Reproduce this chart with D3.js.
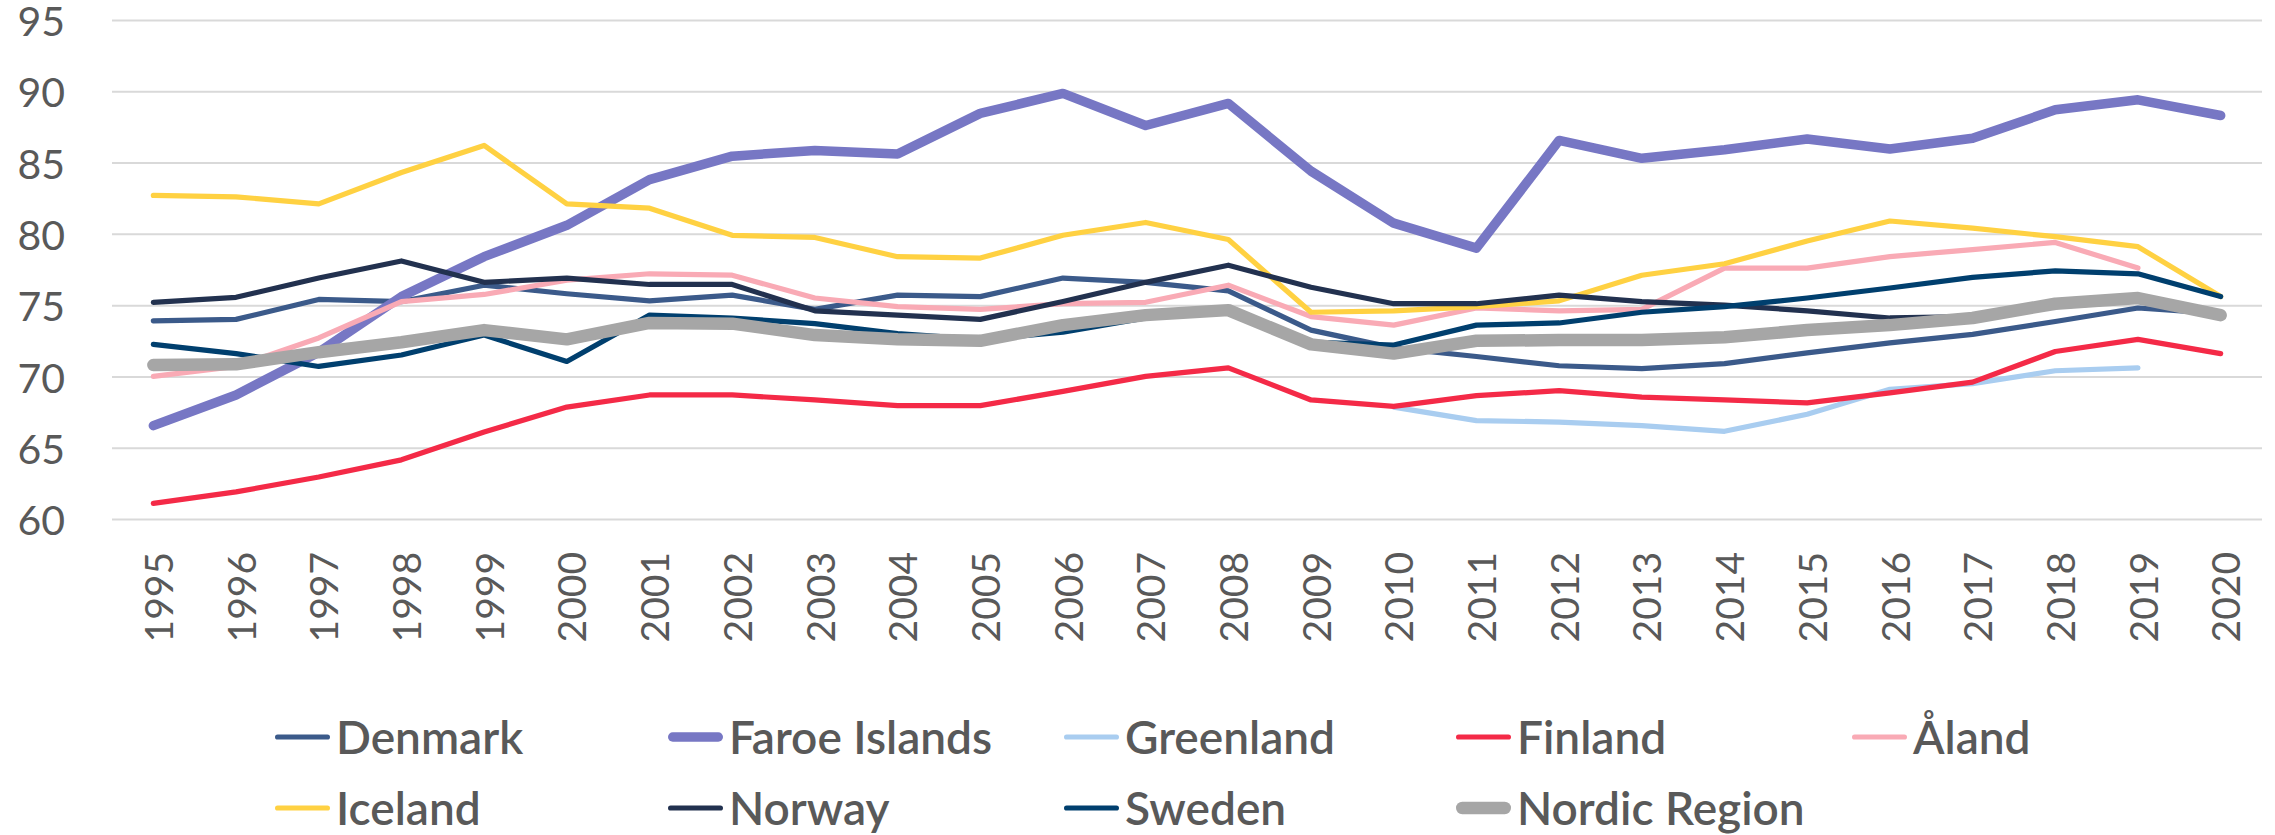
<!DOCTYPE html>
<html>
<head>
<meta charset="utf-8">
<script src="https://cdn.jsdelivr.net/npm/d3@7"></script>
<style>
  body { margin: 0; background: #fff; }
  text { font-family: Lato, "Open Sans", sans-serif; fill: #595959; }
</style>
</head>
<body>
<div class="container"></div>
<script>
const w = 2275
const h = 835

const years = ['1995', '1996', '1997', '1998', '1999', '2000', '2001', '2002', '2003', '2004', '2005', '2006', '2007',
  '2008', '2009', '2010', '2011', '2012', '2013', '2014', '2015', '2016', '2017', '2018', '2019', '2020']
const yTicks = [60, 65, 70, 75, 80, 85, 90, 95]

const names = ['Denmark', 'Faroe Islands', 'Greenland', 'Finland', 'Åland', 'Iceland', 'Norway', 'Sweden', 'Nordic Region']

const denmark = [73.9, 74.0, 75.4, 75.25, 76.4, 75.8, 75.3, 75.7, 74.7, 75.7, 75.6, 76.9, 76.6, 76.0, 73.25, 72.0, 71.4, 70.75, 70.55, 70.9, 71.65, 72.35, 72.95, 73.85, 74.8, 74.4]
const faroe = [66.55, 68.7, 71.7, 75.6, 78.4, 80.6, 83.8, 85.45, 85.85, 85.6, 88.45, 89.85, 87.6, 89.15, 84.4, 80.75, 79.0, 86.55, 85.3, 85.9, 86.65, 85.95, 86.7, 88.7, 89.4, 88.3]
const greenland = [null, null, null, null, null, null, null, null, null, null, null, null, null, null, null,
  67.85, 66.9, 66.8, 66.55, 66.15, 67.35, 69.1, 69.5, 70.4, 70.6, null]
const finland = [61.1, 61.9, 62.95, 64.15, 66.1, 67.85, 68.7, 68.7, 68.35, 67.95, 67.95, 68.95, 70.0, 70.6, 68.35, 67.9, 68.65, 69.0, 68.55, 68.35, 68.15, 68.85, 69.6, 71.75, 72.6, 71.6]
const aland = [70.0, 70.7, 72.7, 75.25, 75.75, 76.75, 77.2, 77.1, 75.5, 74.9, 74.7, 75.1, 75.2, 76.4, 74.2, 73.6, 74.8, 74.6, 74.7, 77.6, 77.6, 78.4, 78.9, 79.4, 77.6, null]
const iceland = [82.7, 82.6, 82.1, 84.3, 86.2, 82.1, 81.8, 79.9, 79.75, 78.4, 78.3, 79.9, 80.8, 79.6, 74.5, 74.6, 74.9, 75.3, 77.1, 77.9, 79.5, 80.9, 80.4, 79.8, 79.1, 75.6]
const norway = [75.2, 75.55, 76.9, 78.1, 76.6, 76.9, 76.45, 76.45, 74.6, 74.3, 74.0, 75.25, 76.6, 77.8, 76.25, 75.1, 75.1, 75.7, 75.25, 75.0, 74.6, 74.1, 74.2, 74.9, 75.3, 74.4]
const sweden = [72.25, 71.6, 70.7, 71.5, 72.9, 71.05, 74.3, 74.1, 73.7, 73.0, 72.6, 73.1, 74.1, 74.6, 72.4, 72.2, 73.6, 73.75, 74.5, 74.9, 75.5, 76.2, 76.95, 77.4, 77.2, 75.6]
const nordic = [70.8, 70.85, 71.7, 72.4, 73.25, 72.6, 73.75, 73.7, 72.9, 72.6, 72.5, 73.6, 74.3, 74.65, 72.25, 71.6, 72.5, 72.55, 72.55, 72.75, 73.25, 73.6, 74.1, 75.1, 75.5, 74.3]

const seriesValues = [denmark, faroe, greenland, finland, aland, iceland, norway, sweden, nordic]

// styles, same order as names
const colors = ['#3B5A8A', '#7777C4', '#A9CDF0', '#F42A47', '#F9AAB5', '#FFD142', '#22314F', '#003F6E', '#A6A6A6']
const widths = [5.2, 9.5, 5.2, 5.2, 5.2, 5.2, 5.2, 5.2, 12.5]

const plot = { left: 112, right: 2262, top: 20, bottom: 519 }

const svg = d3.select('.container')
  .append('svg')
  .attr('width', w)
  .attr('height', h)

const xScale = d3.scaleBand()
  .domain(years)
  .range([plot.left, plot.right])

const yScale = d3.scaleLinear()
  .domain([60, 95])
  .range([plot.bottom, plot.top])

// y axis + gridlines
const yAxis = d3.axisLeft(yScale)
  .tickValues(yTicks)
  .tickSize(-(plot.right - plot.left))
  .tickPadding(47)
svg.append('g')
  .attr('transform', 'translate(' + plot.left + ', 0)')
  .call(yAxis)
  .call(g => g.select('.domain').remove())
  .call(g => g.selectAll('line').attr('stroke', '#D9D9D9').attr('stroke-width', 2))
  .call(g => g.selectAll('text')
    .attr('font-size', 41)
    .attr('fill', '#595959')
    .attr('dy', '0.38em'))

// x axis labels, rotated
const xAxis = d3.axisBottom(xScale).tickSize(0).tickPadding(0)
svg.append('g')
  .attr('transform', 'translate(0, ' + plot.bottom + ')')
  .call(xAxis)
  .call(g => g.select('.domain').remove())
  .call(g => g.selectAll('text')
    .attr('font-size', 39)
    .attr('fill', '#595959')
    .attr('text-anchor', 'end')
    .attr('y', 0)
    .attr('dy', '0.35em')
    .attr('transform', 'translate(6, 33) rotate(-90)'))

// lines
const line = d3.line()
  .defined(d => d != null)
  .x((d, i) => xScale(years[i]) + xScale.bandwidth() / 2)
  .y(d => yScale(d))

svg.append('g')
  .selectAll('path')
  .data(seriesValues)
  .enter()
  .append('path')
  .attr('d', d => line(d))
  .attr('fill', 'none')
  .attr('stroke', (d, i) => colors[i])
  .attr('stroke-width', (d, i) => widths[i])
  .attr('stroke-linejoin', 'round')
  .attr('stroke-linecap', 'round')

// legend
const legendCols = [275, 668, 1064, 1456, 1852]
const legendRows = [737, 808]
const legend = svg.append('g')
  .selectAll('g')
  .data(names)
  .enter()
  .append('g')
  .attr('transform', (d, i) => 'translate(' + legendCols[i % 5] + ', ' + legendRows[Math.floor(i / 5)] + ')')

legend.append('line')
  .attr('x1', (d, i) => widths[i] / 2)
  .attr('x2', (d, i) => 55 - widths[i] / 2)
  .attr('stroke', (d, i) => colors[i])
  .attr('stroke-width', (d, i) => widths[i])
  .attr('stroke-linecap', 'round')

legend.append('text')
  .text(d => d)
  .attr('x', 61)
  .attr('dy', '0.36em')
  .attr('font-size', 46)
  .attr('font-weight', 600)
  .attr('fill', '#595959')
</script>
</body>
</html>
